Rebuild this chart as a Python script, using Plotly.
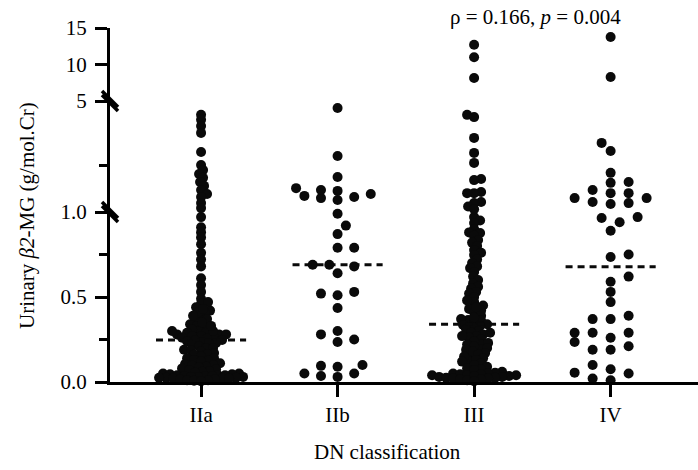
import plotly.graph_objects as go
import numpy as np

# ---------------- data ----------------
categories = ["IIa", "IIb", "III", "IV"]

iia_values = [
    4.5, 4.32, 4.1, 3.85, 3.16, 2.69, 2.51, 2.37, 2.23, 2.08, 1.94, 1.79, 1.65, 1.54, 1.32, 1.14,
    0.97, 0.91, 0.88, 0.85, 0.81, 0.76, 0.72, 0.68, 0.61, 0.57, 0.53, 0.49, 0.46, 0.42, 0.40,
    0.38, 0.36, 0.34, 0.33, 0.32, 0.30, 0.29, 0.28, 0.27, 0.26, 0.255,
    0.44, 0.41, 0.37, 0.35, 0.31, 0.30, 0.29, 0.28, 0.27, 0.26,
    0.47, 0.43, 0.39, 0.33, 0.30, 0.28,
    0.247,
    0.245, 0.24, 0.235, 0.23, 0.225, 0.22, 0.21, 0.20, 0.20, 0.19, 0.185, 0.18,
    0.17, 0.165, 0.16, 0.15, 0.14, 0.14, 0.13, 0.125, 0.12, 0.11, 0.105, 0.10,
    0.095, 0.09, 0.085, 0.08, 0.075, 0.07, 0.065, 0.06,
    0.055, 0.05, 0.05, 0.045, 0.045, 0.04, 0.04, 0.04, 0.035, 0.035, 0.035, 0.03, 0.03,
    0.03, 0.025, 0.025, 0.025, 0.02, 0.02, 0.02, 0.015, 0.015, 0.01, 0.01, 0.008, 0.005,
]

iib_values = [
    4.75, 3.02, 2.26, 1.58, 1.50, 1.65, 1.79, 1.86, 1.76, 1.43, 1.54,
    0.99, 0.92, 0.87, 0.79, 0.79, 0.68, 0.69, 0.69, 0.64, 0.51, 0.53, 0.52, 0.435,
    0.25, 0.28, 0.235, 0.30, 0.09, 0.03, 0.05, 0.095, 0.035, 0.05, 0.10,
]

iii_values = [
    12.7, 11.0, 8.15,
    4.5, 4.42, 3.67, 3.13, 2.77, 2.19, 2.15, 1.72, 1.68, 1.68, 1.36, 1.32, 1.2, 1.1,
    0.97, 0.95, 0.935, 0.9, 0.88, 0.876, 0.86, 0.835, 0.82, 0.8, 0.776, 0.76, 0.747, 0.72,
    0.70, 0.68, 0.67, 0.647, 0.62, 0.60, 0.58, 0.56, 0.55, 0.53, 0.52, 0.50, 0.47, 0.45,
    0.43, 0.41, 0.39, 0.365, 0.35,
    0.36, 0.38, 0.42, 0.44, 0.48, 0.37,
    0.34,
    0.335, 0.33, 0.32, 0.31, 0.30, 0.29, 0.28, 0.27, 0.26, 0.25,
    0.29, 0.27, 0.22, 0.19, 0.15, 0.12,
    0.24, 0.23, 0.22, 0.21, 0.20, 0.19, 0.18, 0.17, 0.16, 0.15, 0.14, 0.13, 0.12, 0.11,
    0.10, 0.09, 0.08, 0.075, 0.07, 0.06,
    0.055, 0.05, 0.05, 0.045, 0.045, 0.04, 0.04, 0.04, 0.035, 0.035, 0.03, 0.03, 0.025,
    0.025, 0.02, 0.02, 0.015, 0.015, 0.01, 0.005,
]

iv_values = [
    13.77, 8.29, 3.2, 3.49, 2.41, 2.05, 2.08,
    1.50, 1.68, 1.36, 1.68, 1.29, 1.79, 1.32, 1.50,
    0.97, 0.94, 0.965, 0.89, 0.75, 0.735, 0.62, 0.59, 0.53, 0.47,
    0.37, 0.37, 0.39, 0.29, 0.29, 0.26, 0.29, 0.21, 0.19, 0.19, 0.235,
    0.02, 0.075, 0.05, 0.055, 0.10, 0.01,
]

groups = [iia_values, iib_values, iii_values, iv_values]

y_segments = [(0.0, 1.0), (1.0, 5.0), (5.0, 15.0)]
y_tickvals = [[0.0, 0.5, 1.0], [2.66], [5, 10, 15]]
y_ticktext = [["0.0", "0.5", "1.0"], [""], ["5", "10", "15"]]
y_minor_ticks = [0.25, 0.75]

# ---------------- layout / style ----------------
W, H = 698, 470
ML, MR, MT, MB = 110, 0, 28, 88
PW, PH = W - ML - MR, H - MT - MB
seg_px = [170, 111, 73]
bounds = np.concatenate([[0], np.cumsum(seg_px)]) / PH
domains = [[float(bounds[i]), float(min(bounds[i + 1], 1.0))] for i in range(3)]
X_RANGE = [-0.667, 3.64]
px_per_x = PW / (X_RANGE[1] - X_RANGE[0])
FONT = "Liberation Serif"
FS = 21
DOT = 10


def val_to_px(v):
    """pixel height above the x axis for a value, through the broken axis segments"""
    for (lo, hi), d in zip(y_segments, domains):
        if v <= hi or hi == y_segments[-1][1]:
            return (d[0] + (v - lo) / (hi - lo) * (d[1] - d[0])) * PH
    return PH


def seg_index(v):
    for i, (lo, hi) in enumerate(y_segments):
        if v < hi:
            return i
    return len(y_segments) - 1


def swarm(vals, sx, sy, step, maxw):
    ys = [val_to_px(v) for v in vals]
    order = sorted(range(len(vals)), key=lambda i: ys[i])
    placed = []
    offs = [0.0] * len(vals)
    for n, i in enumerate(order):
        y = ys[i]
        signs = (1, -1) if n % 2 == 0 else (-1, 1)
        cands = [0.0]
        j = 1
        while j * step <= maxw:
            for s in signs:
                cands.append(s * j * step)
            j += 1
        best, bestd = 0.0, -1
        chosen = None
        for c in cands:
            dmin = min([((c - ox) / sx) ** 2 + ((y - oy) / sy) ** 2 for ox, oy in placed] or [9])
            if dmin >= 1:
                chosen = c
                break
            if dmin > bestd:
                best, bestd = c, dmin
        if chosen is None:
            chosen = best
        placed.append((chosen, y))
        offs[i] = chosen
    return offs


swarm_params = [
    dict(sx=7.0, sy=4.5, step=1.0, maxw=44),
    dict(sx=16.6, sy=9.0, step=8.3, maxw=44),
    dict(sx=7.0, sy=4.5, step=1.0, maxw=46),
    dict(sx=18.0, sy=9.0, step=9.0, maxw=40),
]

fig = go.Figure()
yrefs = ["y", "y2", "y3"]
for gi, vals in enumerate(groups):
    offs = swarm(vals, **swarm_params[gi])
    xs = [gi + o / px_per_x for o in offs]
    for si in range(3):
        idx = [k for k, v in enumerate(vals) if seg_index(v) == si]
        if not idx:
            continue
        fig.add_trace(go.Scatter(
            x=[xs[k] for k in idx], y=[vals[k] for k in idx],
            mode="markers", yaxis=yrefs[si], xaxis="x",
            marker=dict(size=DOT, color="#0a0a0a", line=dict(width=0)),
            cliponaxis=False, showlegend=False, hoverinfo="y"))
    med = float(np.median(vals))
    fig.add_trace(go.Scatter(
        x=[gi - 0.33, gi + 0.33], y=[med, med], mode="lines", yaxis="y", xaxis="x",
        line=dict(color="#0a0a0a", width=3, dash="7px,5px"),
        cliponaxis=False, showlegend=False, hoverinfo="skip"))

axis_common = dict(showline=True, linewidth=3, linecolor="black", ticks="outside",
                   tickwidth=3, tickcolor="black", showgrid=False, zeroline=False,
                   tickfont=dict(family=FONT, size=FS, color="black"))

fig.update_layout(
    width=W, height=H, margin=dict(l=ML, r=MR, t=MT, b=MB),
    paper_bgcolor="white", plot_bgcolor="white",
    font=dict(family=FONT, size=FS, color="black"),
    xaxis=dict(range=X_RANGE, tickvals=list(range(len(categories))), ticktext=categories,
               anchor="y", ticklen=12, **axis_common),
    yaxis=dict(domain=domains[0], range=list(y_segments[0]), tickvals=y_tickvals[0],
               ticktext=y_ticktext[0], ticklen=12, anchor="x", ticklabelstandoff=4,
               minor=dict(tickvals=y_minor_ticks, ticklen=8, tickwidth=3, ticks="outside",
                          tickcolor="black"), **axis_common),
    yaxis2=dict(domain=domains[1], range=list(y_segments[1]), tickvals=y_tickvals[1],
                ticktext=y_ticktext[1], ticklen=8, anchor="x", **axis_common),
    yaxis3=dict(domain=domains[2], range=list(y_segments[2]), tickvals=y_tickvals[2],
                ticktext=y_ticktext[2], ticklen=12, anchor="x", ticklabelstandoff=4,
                **axis_common),
)

# axis break marks
for b in [domains[0][1], domains[1][1]]:
    for dy in (-2, 2):
        fig.add_shape(type="line", xref="paper", yref="paper",
                      xsizemode="pixel", ysizemode="pixel", xanchor=0, yanchor=b,
                      x0=-8, x1=8, y0=8 + dy, y1=-8 + dy,
                      line=dict(color="black", width=3.5))

fig.add_annotation(text="Urinary <i>β2</i>-MG (g/mol.Cr)", textangle=-90,
                   xref="paper", yref="paper", x=-(ML - 27) / PW, y=(H - MB - 216) / PH,
                   xanchor="center", yanchor="middle", showarrow=False,
                   font=dict(family=FONT, size=FS, color="black"))
fig.add_annotation(text="DN classification", xref="paper", yref="paper",
                   x=(387 - ML) / PW, y=-(452 - (H - MB)) / PH,
                   xanchor="center", yanchor="middle", showarrow=False,
                   font=dict(family=FONT, size=FS, color="black"))
fig.add_annotation(text="ρ = 0.166, <i>p</i> = 0.004", xref="paper", yref="paper",
                   x=(535 - ML) / PW, y=1 + (MT - 17) / PH,
                   xanchor="center", yanchor="middle", showarrow=False,
                   font=dict(family=FONT, size=FS, color="black"))

fig.write_html("out.html")
